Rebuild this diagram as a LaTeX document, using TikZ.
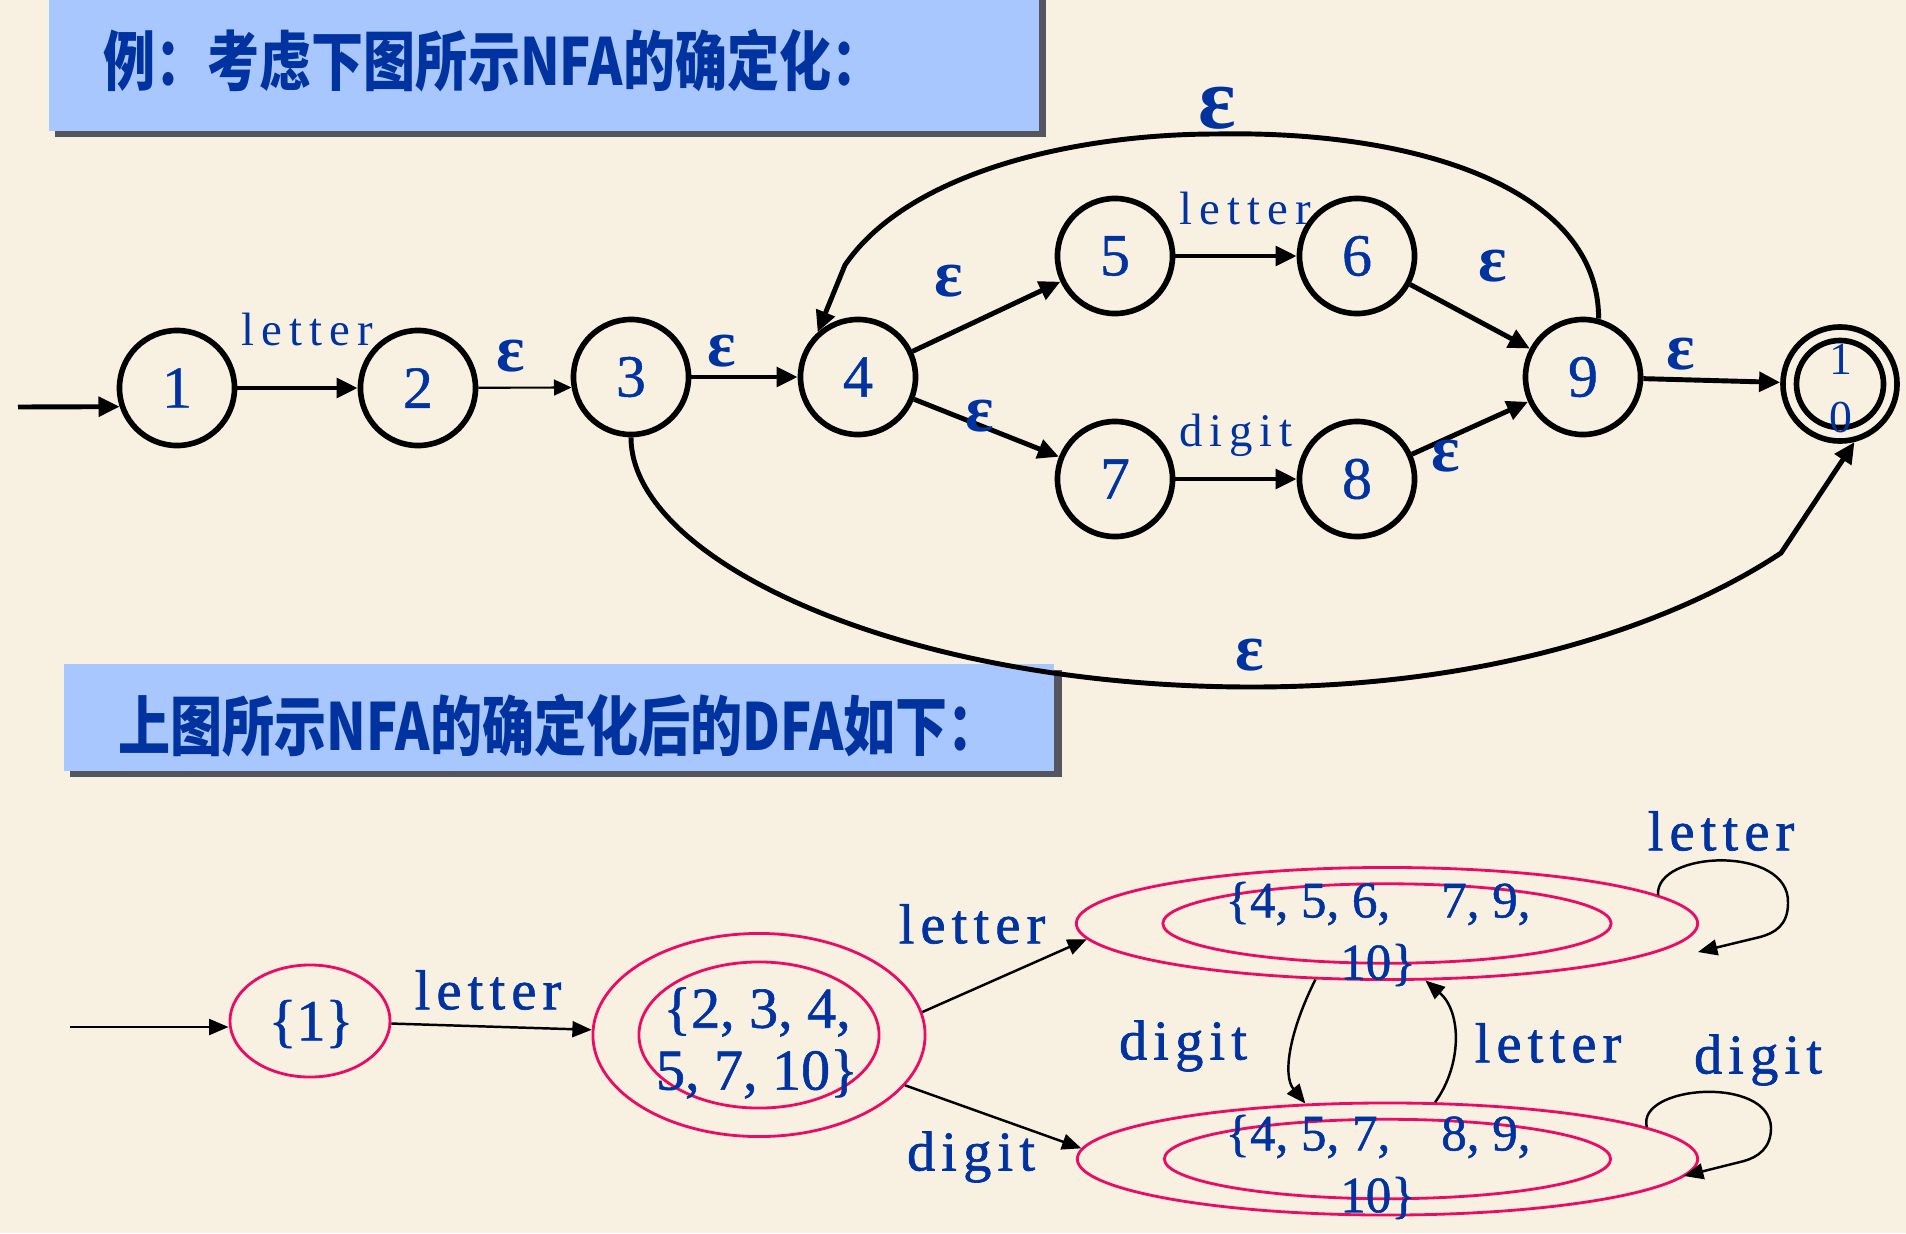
\documentclass[tikz,border=0pt]{standalone}
\usepackage{fontspec}
\setmainfont{Liberation Serif}
\newfontfamily\cjkfont[FakeStretch=0.8]{Noto Sans CJK SC}
\newfontfamily\nlabfont[LetterSpace=15]{Liberation Serif}
\newfontfamily\dlabfont[LetterSpace=11,FakeBold=1.2]{Liberation Serif}
\newfontfamily\numfont[FakeBold=1]{Liberation Serif}
\newfontfamily\nnumfont[FakeBold=0.8]{Liberation Serif}
\usetikzlibrary{arrows.meta,shapes.geometric}
\definecolor{bgcream}{RGB}{248,241,225}
\definecolor{titleblue}{RGB}{168,199,255}
\definecolor{shadowgray}{RGB}{85,85,95}
\definecolor{tblue}{RGB}{0,51,160}
\definecolor{ered}{RGB}{236,10,100}
\begin{document}
\begin{tikzpicture}[x=0.01cm,y=-0.01cm,
  nstate/.style={circle,draw=black,line width=1.6pt,minimum size=1.15cm,inner sep=0pt,text=tblue,font=\nnumfont\fontsize{17}{19}\selectfont},
  nedge/.style={line width=1.4pt,-{Triangle[length=6pt,width=5.5pt]}},
  thinedge/.style={line width=0.6pt,-{Triangle[length=5pt,width=4.5pt]}},
  arcedge/.style={line width=1.4pt,-{Triangle[length=6pt,width=5.5pt]}},
  eps/.style={text=tblue,font=\bfseries\fontsize{19}{21}\selectfont,inner sep=0pt},
  nlab/.style={text=tblue,font=\nlabfont\fontsize{13.3}{16}\selectfont,inner sep=0pt},
  dstate/.style={ellipse,draw=ered,line width=0.8pt,inner sep=0pt},
  dtext/.style={text=tblue,align=center,inner sep=0pt},
  dedge/.style={line width=0.7pt,-{Triangle[length=5.5pt,width=4.5pt]}},
  dlab/.style={text=tblue,font=\dlabfont\fontsize{16}{19}\selectfont,inner sep=0pt},
  titletext/.style={text=tblue,font=\cjkfont\bfseries\fontsize{18.5}{21}\selectfont,anchor=west,inner sep=0pt}
]
% background
\fill[bgcream] (0,0) rectangle (1906,1233);
\useasboundingbox (0,0) rectangle (1906,1233);

% title boxes
\fill[shadowgray] (55,-10) rectangle (1046,137);
\fill[titleblue] (49,-10) rectangle (1039,131);
\node[titletext] (t1) at (103,61) {例：考虑下图所示NFA的确定化：};
\fill[shadowgray] (70,670) rectangle (1062,777);
\fill[titleblue] (64,664) rectangle (1054,771);
\node[titletext] (t2) at (118,726) {上图所示NFA的确定化后的DFA如下：};

% NFA states
\node[nstate] (n1) at (177,388) {1};
\node[nstate] (n2) at (418,388) {2};
\node[nstate] (n3) at (631,377) {3};
\node[nstate] (n4) at (858,377) {4};
\node[nstate] (n5) at (1115,256) {5};
\node[nstate] (n6) at (1357,256) {6};
\node[nstate] (n7) at (1115,479) {7};
\node[nstate] (n8) at (1357,479) {8};
\node[nstate] (n9) at (1583,377) {9};
\node[nstate,minimum size=1.14cm] (n10) at (1840,384) {};
\node[circle,draw=black,line width=1.6pt,minimum size=0.87cm,inner sep=0pt] (n10i) at (n10) {};
\node[text=tblue,align=center,inner sep=0pt,font=\fontsize{13}{16.5}\selectfont] (n10t) at (1841,389) {1\\0};

% NFA edges
\coordinate (ns) at (18,407);
\draw[nedge] (ns) -- (n1.198);
\draw[nedge] (n1) -- (n2);
\draw[thinedge] (n2) -- (n3.190);
\draw[nedge] (n3) -- (n4);
\draw[nedge] (n4) -- (n5);
\draw[nedge] (n4) -- (n7);
\draw[nedge] (n5) -- (n6);
\draw[nedge] (n7) -- (n8);
\draw[nedge] (n6) -- (n9);
\draw[nedge] (n8) -- (n9);
\draw[nedge] (n9) -- (n10);
\draw[arcedge] (n9.75) .. controls (1599,190) and (1420,130) .. (1216,134)
   .. controls (1080,134) and (910,170) .. (845,265) -- (n4.132);
\draw[arcedge] (n3.south) .. controls (631,560) and (900,687) .. (1252,687)
   .. controls (1500,687) and (1680,620) .. (1781,553) -- (n10.-76);

% NFA labels
\node[nlab] (l12) at (307,329) {letter};
\node[nlab] (l56) at (1245,208) {letter};
\node[nlab] (l78) at (1236,435) {digit};
\node[eps] (e23) at (511,356) {ε};
\node[eps] (e34) at (722,351) {ε};
\node[eps] (e45) at (949,281) {ε};
\node[eps] (e47) at (980,416) {ε};
\node[eps] (e69) at (1493,266) {ε};
\node[eps] (e89) at (1446,456) {ε};
\node[eps] (e910) at (1681,354) {ε};
\node[eps,font=\bfseries\fontsize{25}{27}\selectfont] (etop) at (1217,108) {ε};
\node[eps] (ebot) at (1250,655) {ε};

% DFA states
\node[dstate,minimum width=1.60cm,minimum height=1.12cm] (d1) at (310,1021) {};
\node[dstate,minimum width=3.32cm,minimum height=2.03cm] (d2o) at (759,1035) {};
\node[dstate,minimum width=2.40cm,minimum height=1.46cm] (d2i) at (759,1035) {};
\node[dstate,minimum width=6.21cm,minimum height=1.12cm] (dto) at (1387,923.5) {};
\node[dstate,minimum width=4.48cm,minimum height=0.794cm] (dti) at (1387,923.5) {};
\node[dstate,minimum width=6.20cm,minimum height=1.12cm] (dbo) at (1387.5,1159) {};
\node[dstate,minimum width=4.46cm,minimum height=0.794cm] (dbi) at (1387.5,1159) {};

\node[dtext,font=\numfont\fontsize{16.5}{17.6}\selectfont] (d1t) at (311,1024) {\{1\}};
\node[dtext,font=\numfont\fontsize{16.5}{17.6}\selectfont] (d2t) at (757,1043) {\{2, 3, 4,\\5, 7, 10\}};
\node[dtext,font=\numfont\fontsize{14.5}{17.6}\selectfont] (dtt) at (1378,934) {\{4, 5, 6,\quad 7, 9,\\10\}};
\node[dtext,font=\numfont\fontsize{14.5}{17.6}\selectfont] (dbt) at (1378,1167) {\{4, 5, 7,\quad 8, 9,\\10\}};

% DFA edges
\coordinate (ds) at (70,1027);
\draw[dedge] (ds) -- (d1.west |- ds);
\draw[dedge] (d1) -- (d2o);
\draw[dedge] (d2o.8) -- (dto.183);
\draw[dedge] (d2o.-19) -- (dbo.178);
\draw[dedge] (dto.218) .. controls (1290,1030) and (1282,1075) .. (dbo.146);
\draw[dedge] (dbo.50) .. controls (1462,1065) and (1462,1012) .. (dto.-56);
\coordinate (ltend) at (1698,952);
\draw[dedge] (dto.6) .. controls (1655,850) and (1790,845) .. (1788,903)
   .. controls (1788,925) and (1775,933) .. (1760,937) -- (ltend);
\coordinate (lbend) at (1684,1176);
\draw[dedge] (dbo.7) .. controls (1636,1085) and (1770,1075) .. (1771,1128)
   .. controls (1771,1148) and (1758,1157) .. (1744,1161) -- (lbend);

% DFA labels
\node[dlab] (dl12) at (488,990) {letter};
\node[dlab] (dl2t) at (972,924) {letter};
\node[dlab] (dl2b) at (971,1157) {digit};
\node[dlab] (dltb) at (1183,1046) {digit};
\node[dlab] (dlbt) at (1548,1043) {letter};
\node[dlab] (dltl) at (1721,831) {letter};
\node[dlab] (dlbl) at (1758,1060) {digit};
\end{tikzpicture}
\end{document}
